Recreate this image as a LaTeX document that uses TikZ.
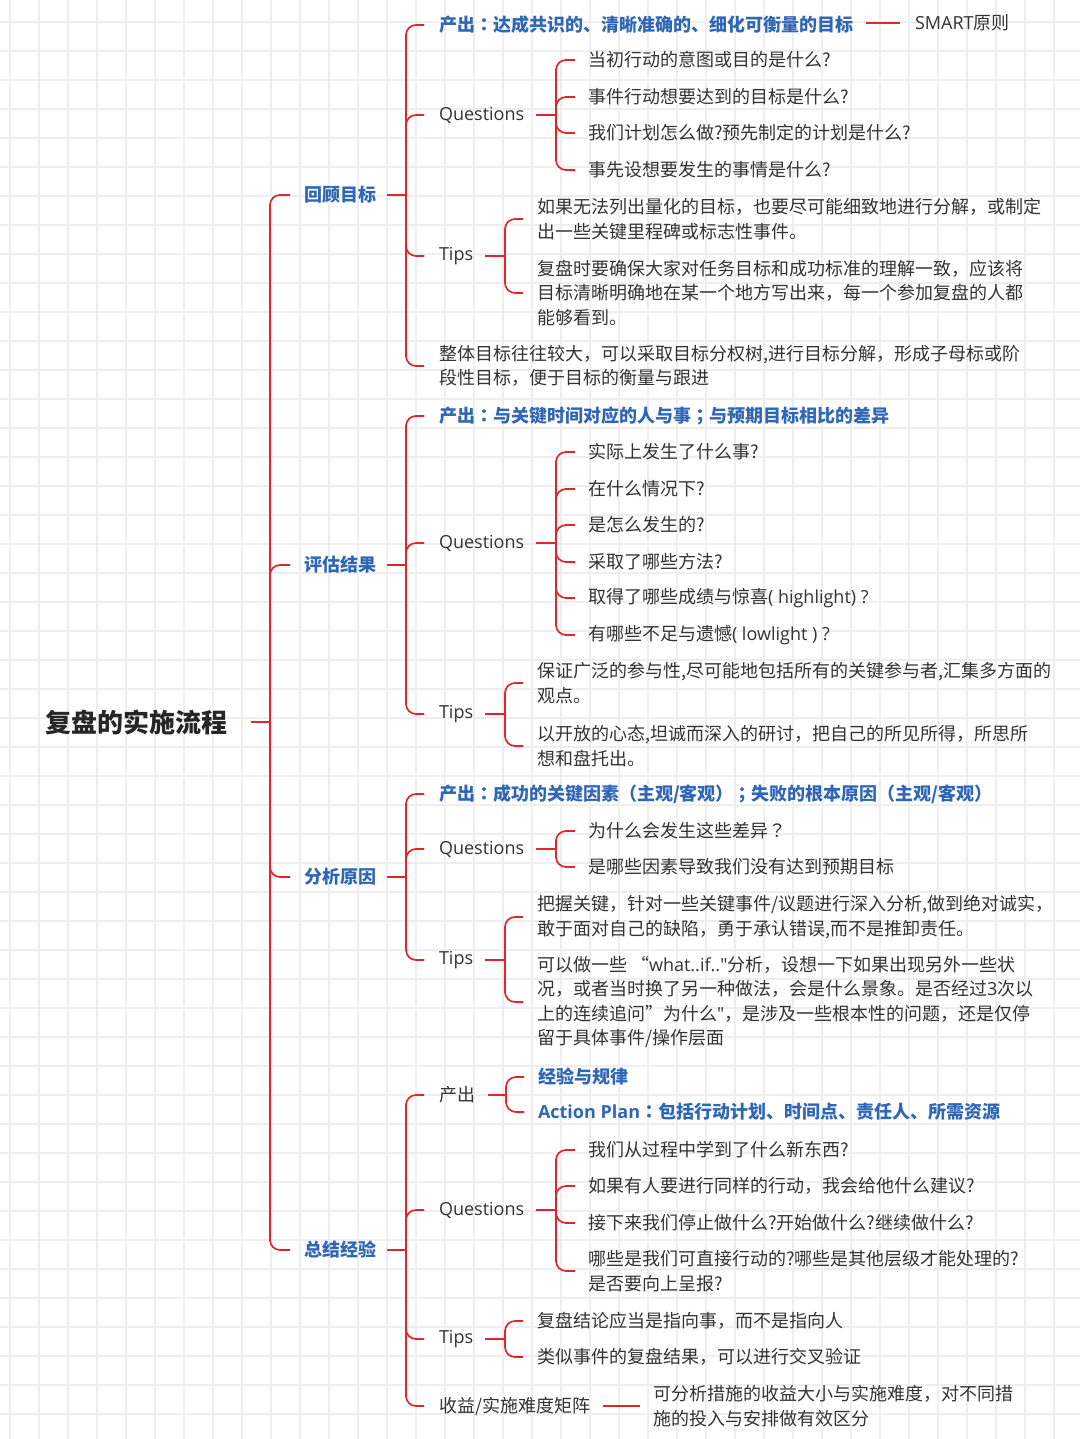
\documentclass[tikz,border=0pt]{standalone}
\usepackage{fontspec}
\setmainfont{Noto Sans CJK SC}
\newfontfamily\lf{Open Sans}
\newfontfamily\tcf{Noto Sans CJK TC}
\newcommand\zcolon{{\tcf ：}}
\newcommand\zsemi{{\tcf ；}}
\newcommand\zq{{\tcf ？}}
\usetikzlibrary{calc}
\definecolor{redc}{HTML}{E0262B}
\definecolor{bluec}{HTML}{2F66B5}
\definecolor{txtc}{HTML}{333333}
\definecolor{gridc}{HTML}{EEEEEE}
\begin{document}
\begin{tikzpicture}[x=1pt,y=-1pt,
  base/.style={inner sep=0pt, outer sep=0pt, anchor=west, text=txtc, align=left,
    font=\fontsize{18pt}{24.5pt}\selectfont},
  blt/.style={base, text=bluec, font=\fontsize{18pt}{24.5pt}\selectfont\bfseries},
  conn/.style={draw=redc, line width=1.7pt, rounded corners=10pt},
  plainline/.style={draw=redc, line width=1.7pt}]
\useasboundingbox (0,0) rectangle (1080,1439);
\fill[white] (0,0) rectangle (1080,1439);
\foreach \i in {0,...,36} \draw[gridc, line width=1.4pt] (10+29*\i,0) -- (10+29*\i,1439);
\foreach \j in {0,...,48} \draw[gridc, line width=1.4pt] (0,22+29*\j) -- (1080,22+29*\j);

% root
\node[base, text=black!85, font=\fontsize{26pt}{30pt}\selectfont\bfseries] (t) at (45,722) {复盘的实施流程};
\node[blt] (g1) at (304,195) {回顾目标};
\node[blt] (g2) at (304,565) {评估结果};
\node[blt] (g3) at (304,877) {分析原因};
\node[blt] (g4) at (304,1250) {总结经验};
\coordinate (b0) at (270,722);
\draw[plainline] ($(t.east)+(24,0)$) -- (b0);
\foreach \c in {g1,g2,g3,g4} \draw[conn] (b0) |- ($(\c.west)+(-14,0)$);

% group 1
\node[blt] (p1) at (439,25) {产出\zcolon 达成共识的、清晰准确的、细化可衡量的目标};
\node[base] (sm) at (915,23) {{\lf SMART}原则};
\draw[plainline] ($(p1.east)+(13,-2)$) -- ($(sm.west)+(-15,0)$);
\node[base] (q1) at (439,115) {\lf Questions};
\node[base] (q11) at (588,60) {当初行动的意图或目的是什么?};
\node[base] (q12) at (588,97) {事件行动想要达到的目标是什么?};
\node[base] (q13) at (588,133) {我们计划怎么做?预先制定的计划是什么?};
\node[base] (q14) at (588,170) {事先设想要发生的事情是什么?};
\node[base] (t1) at (439,256) {\lf Tips};
\node[base] (t11) at (537,219) {如果无法列出量化的目标，也要尽可能细致地进行分解，或制定\\出一些关键里程碑或标志性事件。};
\node[base] (t12) at (537,293) {复盘时要确保大家对任务目标和成功标准的理解一致，应该将\\目标清晰明确地在某一个地方写出来，每一个参加复盘的人都\\能够看到。};
\node[base] (o1) at (439,366) {整体目标往往较大，可以采取目标分权树,进行目标分解，形成子母标或阶\\段性目标，便于目标的衡量与跟进};
\coordinate (b1) at (406,195);
\draw[plainline] ($(g1.east)+(11,0)$) -- (b1);
\foreach \c in {p1,q1,t1,o1} \draw[conn] (b1) |- ($(\c.west)+(-15,0)$);
\coordinate (b11) at (556,115);
\draw[plainline] ($(q1.east)+(12,0)$) -- (b11);
\foreach \c in {q11,q12,q13,q14} \draw[conn] (b11) |- ($(\c.west)+(-13,0)$);
\coordinate (b12) at (505,256);
\draw[plainline] ($(t1.east)+(12,0)$) -- (b12);
\foreach \c in {t11,t12} \draw[conn] (b12) |- ($(\c.west)+(-14,0)$);

% group 2
\node[blt] (p2) at (439,416) {产出\zcolon 与关键时间对应的人与事\zsemi 与预期目标相比的差异};
\node[base] (q2) at (439,543) {\lf Questions};
\node[base] (q21) at (588,452) {实际上发生了什么事?};
\node[base] (q22) at (588,489) {在什么情况下?};
\node[base] (q23) at (588,525) {是怎么发生的?};
\node[base] (q24) at (588,562) {采取了哪些方法?};
\node[base] (q25) at (588,598) {取得了哪些成绩与惊喜{\lf( highlight) ?}};
\node[base] (q26) at (588,635) {有哪些不足与遗憾{\lf( lowlight ) ?}};
\node[base] (t2) at (439,714) {\lf Tips};
\node[base] (t21) at (537,683) {保证广泛的参与性,尽可能地包括所有的关键参与者,汇集多方面的\\观点。};
\node[base] (t22) at (537,746) {以开放的心态,坦诚而深入的研讨，把自己的所见所得，所思所\\想和盘托出。};
\coordinate (b2) at (406,565);
\draw[plainline] ($(g2.east)+(11,0)$) -- (b2);
\foreach \c in {p2,q2,t2} \draw[conn] (b2) |- ($(\c.west)+(-15,0)$);
\coordinate (b21) at (556,543);
\draw[plainline] ($(q2.east)+(12,0)$) -- (b21);
\foreach \c in {q21,q22,q23,q24,q25,q26} \draw[conn] (b21) |- ($(\c.west)+(-13,0)$);
\coordinate (b22) at (505,714);
\draw[plainline] ($(t2.east)+(12,0)$) -- (b22);
\foreach \c in {t21,t22} \draw[conn] (b22) |- ($(\c.west)+(-14,0)$);

% group 3
\node[blt] (p3) at (439,794) {产出\zcolon 成功的关键因素（主观/客观）\zsemi 失败的根本原因（主观/客观）};
\node[base] (q3) at (439,849) {\lf Questions};
\node[base] (q31) at (588,831) {为什么会发生这些差异\zq};
\node[base] (q32) at (588,867) {是哪些因素导致我们没有达到预期目标};
\node[base] (t3) at (439,960) {\lf Tips};
\node[base] (t31) at (537,917) {把握关键，针对一些关键事件/议题进行深入分析,做到绝对诚实，\\敢于面对自己的缺陷，勇于承认错误,而不是推卸责任。};
\node[base] (t32) at (537,1002) {可以做一些 “{\lf what..if.."}分析，设想一下如果出现另外一些状\\况，或者当时换了另一种做法，会是什么景象。是否经过{\lf 3}次以\\上的连续追问”为什么{\lf "}，是涉及一些根本性的问题，还是仅停\\留于具体事件/操作层面};
\coordinate (b3) at (406,877);
\draw[plainline] ($(g3.east)+(11,0)$) -- (b3);
\foreach \c in {p3,q3,t3} \draw[conn] (b3) |- ($(\c.west)+(-15,0)$);
\coordinate (b31) at (556,849);
\draw[plainline] ($(q3.east)+(12,0)$) -- (b31);
\foreach \c in {q31,q32} \draw[conn] (b31) |- ($(\c.west)+(-13,0)$);
\coordinate (b32) at (505,960);
\draw[plainline] ($(t3.east)+(12,0)$) -- (b32);
\foreach \c in {t31,t32} \draw[conn] (b32) |- ($(\c.west)+(-14,0)$);

% group 4
\node[base] (c4) at (439,1095) {产出};
\node[blt] (c41) at (538,1077) {经验与规律};
\node[blt] (c42) at (538,1112) {{\lf Action Plan}\zcolon 包括行动计划、时间点、责任人、所需资源};
\node[base] (q4) at (439,1210) {\lf Questions};
\node[base] (q41) at (588,1150) {我们从过程中学到了什么新东西?};
\node[base] (q42) at (588,1186) {如果有人要进行同样的行动，我会给他什么建议?};
\node[base] (q43) at (588,1223) {接下来我们停止做什么?开始做什么?继续做什么?};
\node[base] (q44) at (588,1271) {哪些是我们可直接行动的?哪些是其他层级才能处理的?\\是否要向上呈报?};
\node[base] (t4) at (439,1339) {\lf Tips};
\node[base] (t41) at (537,1321) {复盘结论应当是指向事，而不是指向人};
\node[base] (t42) at (537,1357) {类似事件的复盘结果，可以进行交叉验证};
\node[base] (m4) at (439,1406) {收益/实施难度矩阵};
\node[base] (m41) at (653,1406) {可分析措施的收益大小与实施难度，对不同措\\施的投入与安排做有效区分};
\coordinate (b4) at (406,1250);
\draw[plainline] ($(g4.east)+(11,0)$) -- (b4);
\foreach \c in {c4,q4,t4,m4} \draw[conn] (b4) |- ($(\c.west)+(-15,0)$);
\coordinate (b41) at (506,1095);
\draw[plainline] ($(c4.east)+(13,0)$) -- (b41);
\foreach \c in {c41,c42} \draw[conn] (b41) |- ($(\c.west)+(-14,0)$);
\coordinate (b42) at (556,1210);
\draw[plainline] ($(q4.east)+(12,0)$) -- (b42);
\foreach \c in {q41,q42,q43,q44} \draw[conn] (b42) |- ($(\c.west)+(-13,0)$);
\coordinate (b43) at (505,1339);
\draw[plainline] ($(t4.east)+(12,0)$) -- (b43);
\foreach \c in {t41,t42} \draw[conn] (b43) |- ($(\c.west)+(-14,0)$);
\draw[plainline] ($(m4.east)+(13,0)$) -- ($(m41.west)+(-13,0)$);
\end{tikzpicture}
\end{document}
